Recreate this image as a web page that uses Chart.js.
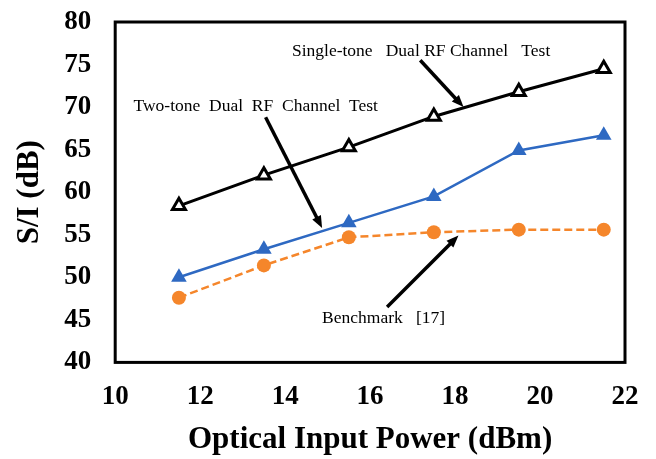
<!DOCTYPE html>
<html lang="en">
<head>
<meta charset="utf-8">
<title>S/I vs Optical Input Power</title>
<style>
  html, body { margin: 0; padding: 0; background: #fff; }
  #wrap { width: 656px; height: 459px; }
</style>
</head>
<body>
<div id="wrap"><canvas id="myChart" width="656" height="459"></canvas></div>
<script src="https://cdn.jsdelivr.net/npm/chart.js"></script>
<script>
// data
var inputPower = [11.5, 13.5, 15.5, 17.5, 19.5, 21.5];
var singleTone = [58.4, 62.0, 65.3, 68.9, 71.8, 74.5];
var twoTone    = [50.0, 53.3, 56.4, 59.5, 64.9, 66.7];
var benchmark  = [47.6, 51.4, 54.7, 55.3, 55.6, 55.6];

var xTicks = [10, 12, 14, 16, 18, 20, 22];
var yTicks = [40, 45, 50, 55, 60, 65, 70, 75, 80];

// annotation text + arrows, in data units
var noteText  = ['Single-tone   Dual RF Channel   Test', 'Two-tone  Dual  RF  Channel  Test', 'Benchmark   [17]'];
var noteX     = [14.16, 10.43, 14.87];
var noteY     = [76.5, 70.1, 45.2];
var arrowFrom = [[17.18, 75.5], [13.54, 68.8], [16.40, 46.5]];
var arrowTo   = [[18.20, 70.0], [14.87, 55.8], [18.08, 54.9]];

function pts(xs, ys) {
    var out = [];
    for (var i = 0; i < xs.length; i++) out.push({x: xs[i], y: ys[i]});
    return out;
}

var serif = '"Liberation Serif", "Times New Roman", serif';

var framePlugin = {
    id: 'frame',
    afterDraw: function (chart) {
        var a = chart.chartArea, c = chart.ctx;
        var xs = chart.scales.x, ys = chart.scales.y;
        c.save();
        c.strokeStyle = '#000';
        c.lineWidth = 3;
        c.strokeRect(a.left, a.top, a.right - a.left, a.bottom - a.top);

        c.fillStyle = '#000';
        c.font = '17.5px ' + serif;
        c.textBaseline = 'middle';
        c.textAlign = 'left';
        for (var i = 0; i < noteText.length; i++) {
            c.fillText(noteText[i], xs.getPixelForValue(noteX[i]), ys.getPixelForValue(noteY[i]));
        }

        c.lineWidth = 3.5;
        for (var j = 0; j < arrowFrom.length; j++) {
            var x0 = xs.getPixelForValue(arrowFrom[j][0]), y0 = ys.getPixelForValue(arrowFrom[j][1]);
            var x1 = xs.getPixelForValue(arrowTo[j][0]), y1 = ys.getPixelForValue(arrowTo[j][1]);
            var ang = Math.atan2(y1 - y0, x1 - x0);
            var head = 13;
            c.beginPath();
            c.moveTo(x0, y0);
            c.lineTo(x1 - Math.cos(ang) * head * 0.8, y1 - Math.sin(ang) * head * 0.8);
            c.stroke();
            c.beginPath();
            c.moveTo(x1, y1);
            c.lineTo(x1 - head * Math.cos(ang - 0.38), y1 - head * Math.sin(ang - 0.38));
            c.lineTo(x1 - head * Math.cos(ang + 0.38), y1 - head * Math.sin(ang + 0.38));
            c.closePath();
            c.fill();
        }
        c.restore();
    }
};

var ctx = document.getElementById('myChart').getContext('2d');
var myChart = new Chart(ctx, {
    type: 'scatter',
    data: {
        datasets: [{
            label: 'Single-tone Dual RF Channel Test',
            data: pts(inputPower, singleTone),
            showLine: true,
            borderColor: '#000',
            borderWidth: 3,
            pointStyle: 'triangle',
            pointRadius: 7.5,
            pointBorderWidth: 3,
            pointBackgroundColor: '#fff',
            pointBorderColor: '#000'
        }, {
            label: 'Two-tone Dual RF Channel Test',
            data: pts(inputPower, twoTone),
            showLine: true,
            borderColor: '#2E69C2',
            borderWidth: 2.5,
            pointStyle: 'triangle',
            pointRadius: 9,
            pointBorderWidth: 0,
            pointBackgroundColor: '#2E69C2'
        }, {
            label: 'Benchmark [17]',
            data: pts(inputPower, benchmark),
            showLine: true,
            borderColor: '#F5862B',
            borderWidth: 2.5,
            borderDash: [8, 4],
            pointStyle: 'circle',
            pointRadius: 7,
            pointBorderWidth: 0,
            pointBackgroundColor: '#F5862B'
        }]
    },
    options: {
        responsive: false,
        animation: false,
        layout: { padding: { left: 4, right: 31, top: 22, bottom: 0 } },
        plugins: { legend: { display: false }, tooltip: { enabled: false } },
        scales: {
            x: {
                type: 'linear',
                min: 10, max: 22,
                afterBuildTicks: function (s) { s.ticks = xTicks.map(function (v) { return {value: v}; }); },
                grid: { display: false, drawTicks: true, tickLength: 18 },
                border: { display: false },
                ticks: { color: '#000', padding: 0, font: { family: serif, weight: 'bold', size: 27 } },
                title: { display: true, text: 'Optical Input Power (dBm)', color: '#000', padding: { top: 9, bottom: 0 },
                         font: { family: serif, weight: 'bold', size: 31 } }
            },
            y: {
                min: 40, max: 80,
                afterBuildTicks: function (s) { s.ticks = yTicks.map(function (v) { return {value: v}; }); },
                grid: { display: false, drawTicks: true, tickLength: 24 },
                border: { display: false },
                ticks: { color: '#000', padding: 0, font: { family: serif, weight: 'bold', size: 27 } },
                title: { display: true, text: 'S/I (dB)', color: '#000', padding: { top: 7, bottom: 16 },
                         font: { family: serif, weight: 'bold', size: 31 } }
            }
        }
    },
    plugins: [framePlugin]
});
</script>
</body>
</html>
